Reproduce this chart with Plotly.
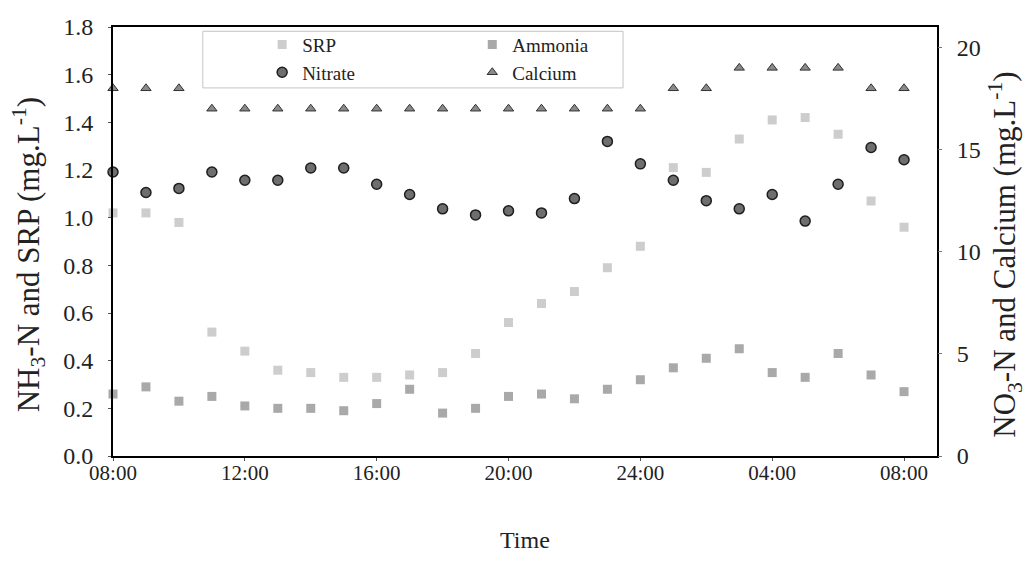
import plotly.graph_objects as go

hours = list(range(25))
tick_hours = [0, 4, 8, 12, 16, 20, 24]
tick_labels = ["08:00", "12:00", "16:00", "20:00", "24:00", "04:00", "08:00"]

srp = [1.02, 1.02, 0.98, 0.52, 0.44, 0.36, 0.35, 0.33, 0.33, 0.34, 0.35, 0.43, 0.56,
       0.64, 0.69, 0.79, 0.88, 1.21, 1.19, 1.33, 1.41, 1.42, 1.35, 1.07, 0.96]
ammonia = [0.26, 0.29, 0.23, 0.25, 0.21, 0.20, 0.20, 0.19, 0.22, 0.28, 0.18, 0.20, 0.25,
           0.26, 0.24, 0.28, 0.32, 0.37, 0.41, 0.45, 0.35, 0.33, 0.43, 0.34, 0.27]
nitrate = [13.9, 12.9, 13.1, 13.9, 13.5, 13.5, 14.1, 14.1, 13.3, 12.8, 12.1, 11.8, 12.0,
           11.9, 12.6, 15.4, 14.3, 13.5, 12.5, 12.1, 12.8, 11.5, 13.3, 15.1, 14.5]
calcium = [18, 18, 18, 17, 17, 17, 17, 17, 17, 17, 17, 17, 17,
           17, 17, 17, 17, 18, 18, 19, 19, 19, 19, 18, 18]

FONT = "Liberation Serif"
TXT = "#222222"

fig = go.Figure()
fig.add_trace(go.Scatter(x=hours, y=srp, mode="markers", name="SRP", legend="legend",
                         marker=dict(symbol="square", size=9, color="#cdcdcd"), cliponaxis=False))
fig.add_trace(go.Scatter(x=hours, y=nitrate, mode="markers", name="Nitrate", legend="legend", yaxis="y2",
                         marker=dict(symbol="circle", size=10, color="#6e6e6e",
                                     line=dict(color="#1e1e1e", width=1.5)), cliponaxis=False))
fig.add_trace(go.Scatter(x=hours, y=ammonia, mode="markers", name="Ammonia", legend="legend2",
                         marker=dict(symbol="square", size=9, color="#a9a9a9"), cliponaxis=False))
fig.add_trace(go.Scatter(x=hours, y=calcium, mode="markers", name="Calcium", legend="legend2", yaxis="y2",
                         marker=dict(symbol="triangle-up", size=9, color="#8a8a8a",
                                     line=dict(color="#333333", width=1)), cliponaxis=False))

fig.update_layout(
    width=1026, height=564,
    margin=dict(l=105, r=97, t=19, b=116),
    paper_bgcolor="white", plot_bgcolor="white",
    font=dict(family=FONT, color=TXT),
    xaxis=dict(range=[0, 25], tickvals=tick_hours, ticktext=tick_labels, automargin=False,
               showgrid=False, zeroline=False, ticks="outside", ticklen=3, tickcolor="#555",
               tickfont=dict(family=FONT, size=21, color=TXT), ticklabelstandoff=-6,
               showline=True, linecolor="black", linewidth=2, mirror=True),
    yaxis=dict(range=[0, 1.8], dtick=0.2, tickformat=".1f", automargin=False,
               showgrid=False, zeroline=False, ticks="outside", ticklen=3, tickcolor="#555",
               tickfont=dict(family=FONT, size=24, color=TXT), ticklabelstandoff=10,
               showline=True, linecolor="black", linewidth=2, mirror=True),
    yaxis2=dict(range=[0, 21], tickvals=[0, 5, 10, 15, 20], overlaying="y", side="right",
                automargin=False,
                showgrid=False, zeroline=False, ticks="outside", ticklen=4, tickcolor="#777",
                tickfont=dict(family=FONT, size=24, color=TXT), ticklabelstandoff=10,
                showline=False),
    legend=dict(x=0.181, y=1.003, xanchor="left", yanchor="top", bgcolor="rgba(0,0,0,0)",
                font=dict(family=FONT, size=19, color=TXT), tracegroupgap=0),
    legend2=dict(x=0.436, y=1.003, xanchor="left", yanchor="top", bgcolor="rgba(0,0,0,0)",
                 font=dict(family=FONT, size=19, color=TXT), tracegroupgap=0),
    shapes=[dict(type="rect", xref="paper", yref="paper", x0=0.109, x1=0.619, y0=0.858, y1=0.99,
                 line=dict(color="#c4c4c4", width=1))],
    annotations=[
        dict(text="Time", xref="paper", yref="paper", x=0.5, y=-0.195, xanchor="center", yanchor="middle",
             showarrow=False, font=dict(family=FONT, size=24, color=TXT)),
        dict(text="NH<sub>3</sub>-N and SRP (mg.L<sup>-1</sup>)", xref="paper", yref="paper",
             x=-0.102, y=0.47, xanchor="center", yanchor="middle", textangle=-90,
             showarrow=False, font=dict(family=FONT, size=31, color=TXT)),
        dict(text="NO<sub>3</sub>-N and Calcium (mg.L<sup>-1</sup>)", xref="paper", yref="paper",
             x=1.083, y=0.47, xanchor="center", yanchor="middle", textangle=-90,
             showarrow=False, font=dict(family=FONT, size=31, color=TXT)),
    ],
    showlegend=True,
)

fig.write_html("out.html")
